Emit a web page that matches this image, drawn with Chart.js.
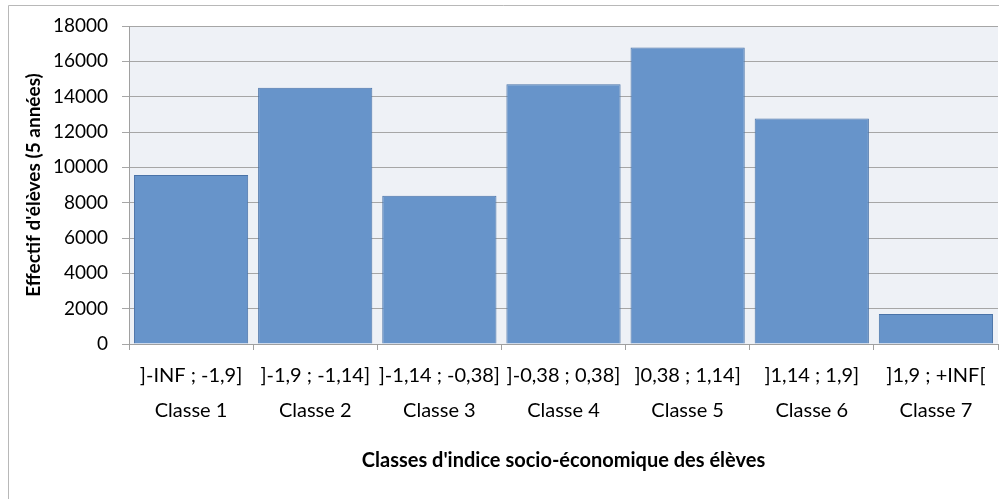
<!DOCTYPE html>
<html>
<head>
<meta charset="utf-8">
<script src="https://cdn.jsdelivr.net/npm/chart.js@4.4.1/dist/chart.umd.min.js"></script>
<style>
  html, body { margin: 0; padding: 0; background: #fff; }
  #wrap { width: 999px; height: 499px; position: relative; }
</style>
</head>
<body>
<div id="wrap"><canvas id="chart"></canvas></div>
<script>
// ---------- Data ----------
const ranges = [']-INF ; -1,9]', ']-1,9 ; -1,14]', ']-1,14 ; -0,38]', ']-0,38 ; 0,38]', ']0,38 ; 1,14]', ']1,14 ; 1,9]', ']1,9 ; +INF['];
const classes = ['Classe 1', 'Classe 2', 'Classe 3', 'Classe 4', 'Classe 5', 'Classe 6', 'Classe 7'];
const effectifs = [9560, 14500, 8390, 14700, 16780, 12770, 1700];
const yTicks = [0, 2000, 4000, 6000, 8000, 10000, 12000, 14000, 16000, 18000];

const labels = ranges.map((r, i) => [r, classes[i]]);
const FONT = 'Lato, "Open Sans", sans-serif';

// plot background + outer frame
const framePlugin = {
    id: 'frame',
    beforeDraw(chart) {
        const { ctx, chartArea: a } = chart;
        ctx.save();
        ctx.fillStyle = '#fff';
        ctx.fillRect(0, 0, chart.width, chart.height);
        ctx.fillStyle = '#EEF1F6';
        ctx.fillRect(a.left, a.top, a.right - a.left, a.bottom - a.top);
        ctx.strokeStyle = '#B8B8B8';
        ctx.lineWidth = 1;
        ctx.beginPath();
        ctx.moveTo(8.5, chart.height);
        ctx.lineTo(8.5, 5.5);
        ctx.lineTo(chart.width, 5.5);
        ctx.stroke();
        ctx.restore();
    }
};

new Chart(document.getElementById('chart'), {
    type: 'bar',
    data: {
        labels,
        datasets: [{
            data: effectifs,
            backgroundColor: '#6794CA',
            borderColor: '#4A73A8',
            borderWidth: 1,
            barPercentage: 0.92,
            categoryPercentage: 1
        }]
    },
    options: {
        responsive: true,
        maintainAspectRatio: false,
        animation: false,
        layout: { padding: { left: 0, top: 26, right: 1, bottom: 0 } },
        plugins: { legend: { display: false }, tooltip: { enabled: false } },
        scales: {
            x: {
                afterFit: (s) => { s.height = 155; },
                border: { color: '#A0A0A0' },
                grid: { offset: true, drawOnChartArea: false, tickLength: 6, color: '#A0A0A0' },
                ticks: {
                    color: '#000', padding: 8, maxRotation: 0, autoSkip: false,
                    font: { family: FONT, size: 20, lineHeight: '35px' }
                },
                title: {
                    display: true, text: "Classes d'indice socio-économique des élèves", color: '#000',
                    font: { family: FONT, size: 20, weight: 'bold' },
                    padding: { top: 0, bottom: 26 }
                }
            },
            y: {
                min: 0, max: 18000,
                afterFit: (s) => { s.width = 129; },
                afterBuildTicks: (s) => { s.ticks = yTicks.map(v => ({ value: v })); },
                border: { color: '#A0A0A0' },
                grid: { color: '#A6A6A6', tickLength: 7 },
                ticks: {
                    color: '#000', padding: 14, font: { family: FONT, size: 19 },
                    callback: (v) => String(v)
                },
                title: {
                    display: true, text: "Effectif d'élèves (5 années)", color: '#000',
                    font: { family: FONT, size: 19, weight: 'bold' },
                    padding: { top: 22, bottom: 0 }
                }
            }
        }
    },
    plugins: [framePlugin]
});
</script>
</body>
</html>
